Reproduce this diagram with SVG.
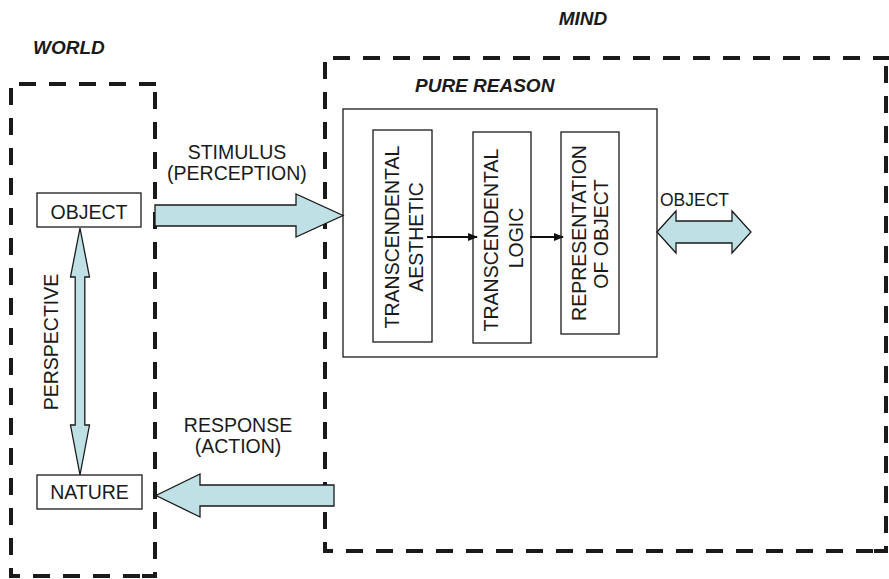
<svg xmlns="http://www.w3.org/2000/svg" width="889" height="579" viewBox="0 0 889 579">
<style>
.dash{fill:none;stroke:#1a1a1a;stroke-width:4;stroke-dasharray:17 13}
.box{fill:#fff;stroke:#1a1a1a;stroke-width:1.3}
.t{font-family:"Liberation Sans",Arial,sans-serif;font-size:19.5px;fill:#1a1a1a}
.b{font-weight:bold;font-style:italic;font-size:19px}
.m{text-anchor:middle}
.blk{fill:#bfe1e5;stroke:#1a1a1a;stroke-width:1.3;stroke-linejoin:miter}
.ln{stroke:#111;stroke-width:2.2;fill:none}
</style>
<defs>
<marker id="ah" markerWidth="10" markerHeight="8" refX="9" refY="4" orient="auto" markerUnits="userSpaceOnUse">
<path d="M0,0 L10,4 L0,8 Z" fill="#111"/>
</marker>
</defs>
<g id="world">
<path class="dash" d="M19,84 H158 M155,92 V576 H140 M11,88 V576 H145"/>
<text class="t b" x="33" y="54">WORLD</text>
</g>
<g id="mind">
<path class="dash" d="M333,58 H889 M886,66 V551 H870 M325,62 V551 H875"/>
<text class="t b m" x="583" y="25">MIND</text>
</g>
<g id="pure-reason">
<rect class="box" x="343" y="109" width="314" height="248"/>
<text class="t b" x="415" y="92">PURE REASON</text>
</g>
<g id="object-world">
<rect class="box" x="37" y="193" width="104" height="34"/>
<text class="t m" x="89" y="219">OBJECT</text>
</g>
<g id="nature">
<rect class="box" x="37" y="475" width="105" height="34"/>
<text class="t m" x="89.5" y="499">NATURE</text>
</g>
<g id="aesthetic">
<rect class="box" x="373" y="130" width="59" height="212"/>
<text class="t m" transform="translate(399,237) rotate(-90)">TRANSCENDENTAL</text>
<text class="t m" transform="translate(423,237) rotate(-90)">AESTHETIC</text>
</g>
<g id="logic">
<rect class="box" x="473" y="132" width="58" height="211"/>
<text class="t m" transform="translate(498,240) rotate(-90)">TRANSCENDENTAL</text>
<text class="t m" transform="translate(523,238) rotate(-90)">LOGIC</text>
</g>
<g id="representation">
<rect class="box" x="561" y="132" width="58" height="202"/>
<text class="t m" transform="translate(586,233) rotate(-90)">REPRESENTATION</text>
<text class="t m" transform="translate(608,234) rotate(-90)">OF OBJECT</text>
</g>
<g id="connectors">
<polygon class="blk" points="155,205 296,205 296,194 343,215.5 296,237 296,226 155,226"/>
<text class="t m" x="237" y="159">STIMULUS</text>
<text class="t m" x="237" y="180">(PERCEPTION)</text>
<polygon class="blk" points="334,485 200,485 200,474 156,495.5 200,517 200,506 334,506"/>
<text class="t m" x="238" y="432">RESPONSE</text>
<text class="t m" x="238" y="453">(ACTION)</text>
<polygon class="blk" points="80,228 89.5,277 84.8,277 84.8,425 89.5,425 80,475 70.5,425 75.2,425 75.2,277 70.5,277"/>
<text class="t m" transform="translate(58,342) rotate(-90)">PERSPECTIVE</text>
<polygon class="blk" points="657,232 676,211 676,221 732,221 732,211 751,232 732,253 732,243 676,243 676,253"/>
<text class="t" x="660" y="206" style="font-size:17.5px">OBJECT</text>
<line class="ln" x1="427" y1="237" x2="477" y2="237" marker-end="url(#ah)"/>
<line class="ln" x1="530" y1="237" x2="563" y2="237" marker-end="url(#ah)"/>
</g>
</svg>
